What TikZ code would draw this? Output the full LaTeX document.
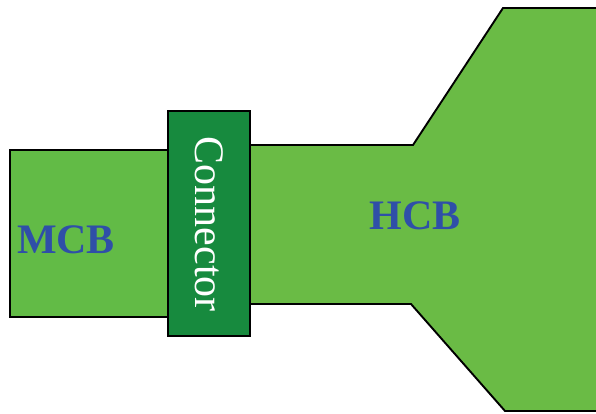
\documentclass[tikz,border=0pt]{standalone}
\usepackage{fontspec}
\setmainfont{Liberation Serif}
\definecolor{mcbgreen}{HTML}{62BB46}
\definecolor{hcbgreen}{HTML}{6ABB45}
\definecolor{congreen}{HTML}{178A3E}
\definecolor{lblue}{HTML}{2F4FA8}
\begin{document}
\begin{tikzpicture}[x=1pt,y=-1pt,
  part/.style={draw=black,line width=1.9pt,line join=miter},
  lbl/.style={text=lblue,font=\fontsize{42}{42}\selectfont\bfseries}]
\useasboundingbox (0,0) rectangle (596,413);
\clip (0,0) rectangle (596,413);
\draw[part,fill=hcbgreen] (249,145) -- (413,145) -- (503,8) -- (610,8) -- (610,411) -- (505,411) -- (411,304) -- (249,304) -- cycle;
\node[part,fill=mcbgreen,minimum width=158pt,minimum height=167pt,anchor=north west,inner sep=0pt] (mcb) at (9,149) {};
\node[part,fill=congreen,minimum width=82pt,minimum height=225pt,anchor=north west,inner sep=0pt] (con) at (167,110) {};
\node[lbl] (mcbt) at (66,240) {MCB};
\node[lbl] (hcbt) at (415,216) {HCB};
\node[text=white,rotate=-90,font=\fontsize{42}{42}\selectfont] (cont) at ([yshift=-1pt]con.center) {Connector};
\end{tikzpicture}
\end{document}
